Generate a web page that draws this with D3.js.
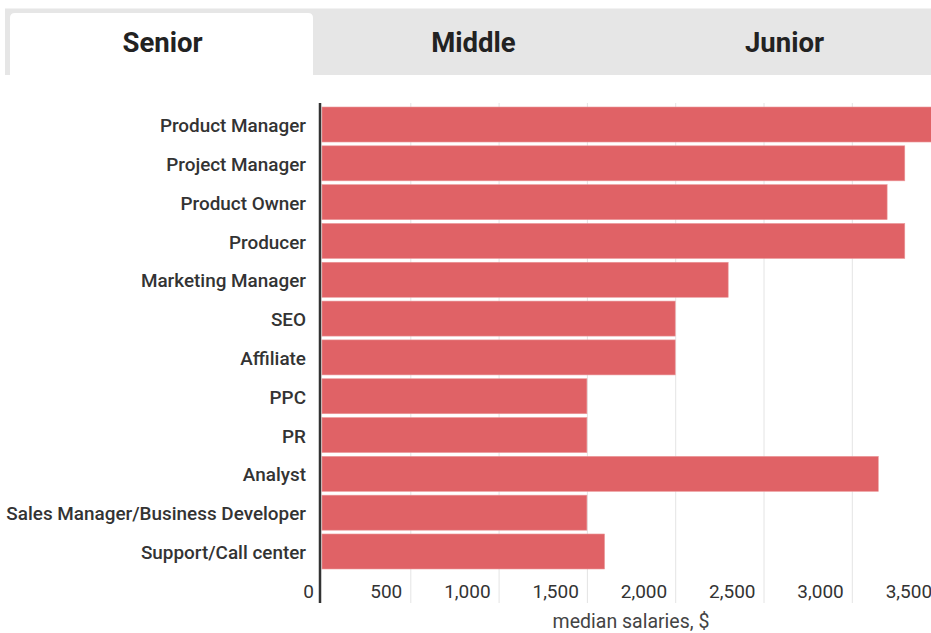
<!DOCTYPE html>
<html>
<head>
<meta charset="utf-8">
<script src="https://cdn.jsdelivr.net/npm/d3@7"></script>
<style>
  html, body { margin: 0; padding: 0; background: #fff; }
  svg { display: block; font-family: Roboto, "Noto Sans", sans-serif; }
</style>
</head>
<body>
<svg id="chart" width="931" height="633"></svg>
<script>
// Seniority tabs shown above the chart
const tabs = ["Senior", "Middle", "Junior"];
const activeTab = "Senior";

// Job roles and their median salaries (USD) for the selected level
const roles = [
  "Product Manager",
  "Project Manager",
  "Product Owner",
  "Producer",
  "Marketing Manager",
  "SEO",
  "Affiliate",
  "PPC",
  "PR",
  "Analyst",
  "Sales Manager/Business Developer",
  "Support/Call center"
];
const salaries = [3500, 3300, 3200, 3300, 2300, 2000, 2000, 1500, 1500, 3150, 1500, 1600];

// Axis ticks
const xTicks = [0, 500, 1000, 1500, 2000, 2500, 3000, 3500];
const xTitle = "median salaries, $";

(function () {
  const svg = d3.select("#chart");
  const W = 931;

  // ---- tab strip ----
  const tabX = d3.scaleBand().domain(tabs).range([7, 7 + 311 * 3]);
  svg.append("rect")
    .attr("x", 5).attr("y", 8.5)
    .attr("width", W - 5).attr("height", 66.5)
    .attr("fill", "#e6e6e6");

  const a0 = tabX(activeTab) + 3, a1 = tabX(activeTab) + tabX.bandwidth() - 5;
  const tTop = 13, tBot = 75, r = 5;
  svg.append("path")
    .attr("d", `M${a0},${tBot}V${tTop + r}Q${a0},${tTop} ${a0 + r},${tTop}H${a1 - r}Q${a1},${tTop} ${a1},${tTop + r}V${tBot}Z`)
    .attr("fill", "#fff");

  svg.append("g").selectAll("text")
    .data(tabs)
    .join("text")
    .attr("x", d => tabX(d) + tabX.bandwidth() / 2)
    .attr("y", 42)
    .attr("dy", "0.35em")
    .attr("text-anchor", "middle")
    .attr("font-size", 27.5)
    .attr("font-weight", 700)
    .attr("fill", "#222")
    .text(d => d);

  // ---- bar chart ----
  const x0 = 322, plotTop = 103, plotBottom = 603;
  const x = d3.scaleLinear().domain([0, 3500]).range([x0, x0 + 7 * 88.3]);
  const y = d3.scaleBand().domain(roles).range([107, 569]).paddingInner(0.098).paddingOuter(0);

  // gridlines + tick labels
  const xAxis = svg.append("g")
    .attr("transform", `translate(0,${plotBottom})`)
    .call(d3.axisBottom(x).tickValues(xTicks).tickSize(-(plotBottom - plotTop)).tickFormat(d3.format(",")));
  xAxis.select(".domain").remove();
  xAxis.selectAll(".tick line")
    .attr("stroke", "#e4e4e4")
    .attr("stroke-width", 1)
    .attr("opacity", d => d === 0 ? 0 : 1);
  xAxis.selectAll(".tick text")
    .attr("x", -8.5)
    .attr("y", -12)
    .attr("dy", "0.35em")
    .attr("text-anchor", "end")
    .attr("font-size", 19)
    .attr("font-family", "Roboto, sans-serif")
    .attr("fill", "#333");

  // bars
  svg.append("g").selectAll("rect")
    .data(roles.map((role, i) => ({ role, value: salaries[i] })))
    .join("rect")
    .attr("x", x(0))
    .attr("y", d => y(d.role))
    .attr("width", d => x(d.value) - x(0))
    .attr("height", y.bandwidth())
    .attr("fill", "#e06266")
    .attr("stroke", "#eb9a9c")
    .attr("stroke-width", 0.6);

  // category axis
  const yAxis = svg.append("g")
    .attr("transform", "translate(320,0)")
    .call(d3.axisLeft(y).tickSize(0).tickPadding(14));
  yAxis.select(".domain").remove();
  yAxis.selectAll(".tick text")
    .attr("y", 1.5)
    .attr("font-size", 18.9)
    .attr("font-weight", 500)
    .attr("font-family", "Roboto, sans-serif")
    .attr("fill", "#333");

  // baseline at zero
  svg.append("line")
    .attr("x1", 320).attr("x2", 320)
    .attr("y1", plotTop).attr("y2", plotBottom)
    .attr("stroke", "#333")
    .attr("stroke-width", 2.5);

  // axis title
  svg.append("text")
    .attr("x", 631)
    .attr("y", 621.5)
    .attr("dy", "0.35em")
    .attr("text-anchor", "middle")
    .attr("font-size", 19.5)
    .attr("fill", "#444")
    .text(xTitle);
})();
</script>
</body>
</html>
